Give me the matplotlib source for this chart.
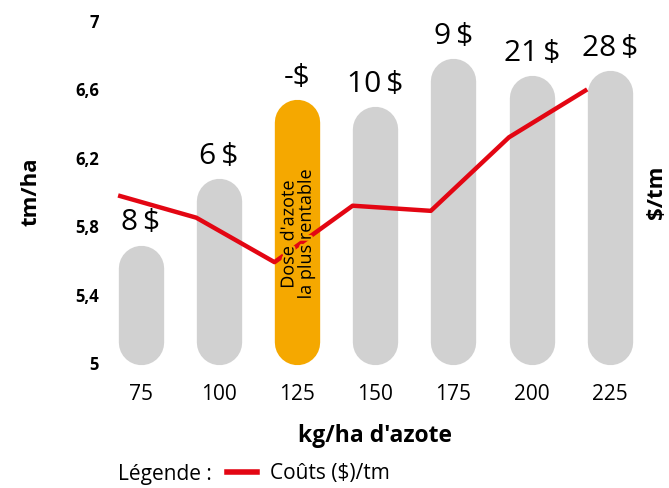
import matplotlib
matplotlib.use('Agg')
import matplotlib.pyplot as plt
import matplotlib.patheffects as pe
from matplotlib.lines import Line2D

plt.rcParams['font.family'] = ['Open Sans', 'DejaVu Sans']

doses = ['75', '100', '125', '150', '175', '200', '225']
rendement = [5.69, 6.08, 6.54, 6.50, 6.78, 6.68, 6.71]   # tm/ha
profit_labels = ['8\u2009$', '6\u2009$', '-$', '10\u2009$', '9\u2009$', '21\u2009$', '28\u2009$']
couts = [5.98, 5.85, 5.59, 5.92, 5.89, 6.32, 6.60]      # $/tm (plotted on own axis)
best_idx = 2

GREY = '#d1d1d1'
ORANGE = '#f5a800'
RED = '#e30613'

fig = plt.figure(figsize=(6.69, 4.88), dpi=100)
ax = fig.add_axes([0.152, 0.256, 0.818, 0.701])
ax.set_xlim(-0.5, 6.5)
ax.set_ylim(5, 7)

bar_w = 0.58
# pixel scale of the axes, to get round caps
px_x = 0.818 * 669 / 7.0
px_y = 0.701 * 488 / 2.0
bar_px = bar_w * px_x
cap = (bar_px / 2) / px_y
base = 4.99
for i, v in enumerate(rendement):
    c = ORANGE if i == best_idx else GREY
    ax.plot([i, i], [base + cap, v - cap], color=c, lw=bar_px * 72 / 100,
            solid_capstyle='round', clip_on=False, zorder=1)
    ax.text(i, v + 0.045, profit_labels[i], ha='center', va='bottom',
            fontsize=21.5, color='black')

ax.set_xticks(range(len(doses)))
ax.set_xticklabels(doses, fontsize=15)
ax.set_yticks([5, 5.4, 5.8, 6.2, 6.6, 7])
ax.set_yticklabels(['5', '5,4', '5,8', '6,2', '6,6', '7'], fontsize=12, fontweight='bold')
ax.tick_params(length=0)
ax.tick_params(axis='y', pad=2)
ax.tick_params(axis='x', pad=15)
for s in ax.spines.values():
    s.set_visible(False)
ax.set_xlabel("kg/ha d'azote", fontsize=16.5, fontweight='bold', labelpad=14)
ax.set_ylabel('tm/ha', fontsize=16, fontweight='bold', labelpad=24)

ax2 = ax.twinx()
ax2.set_ylim(5, 7)
ax2.set_yticks([])
for s in ax2.spines.values():
    s.set_visible(False)
x_line = [i - 0.29 for i in range(len(couts))]
ax2.plot(x_line, couts, color=RED, lw=3.2, solid_capstyle='butt', label='Coûts ($)/tm')
ax2.set_ylabel('$/tm', fontsize=16, fontweight='bold', labelpad=-2)

ax2.text(best_idx, 5.75, "Dose d'azote\nla plus rentable", rotation=90,
         ha='center', va='center', fontsize=13, linespacing=0.95,
         path_effects=[pe.withStroke(linewidth=3, foreground=ORANGE)])

fig.text(0.176, 0.027, 'Légende :', fontsize=15, va='center')
fig.legend(handles=[Line2D([], [], color=RED, lw=4)], labels=['Coûts ($)/tm'],
           loc='center left', bbox_to_anchor=(0.311, 0.029), frameon=False,
           fontsize=15, handlelength=1.45, handletextpad=0.6)

fig.savefig('out.png', dpi=100)
